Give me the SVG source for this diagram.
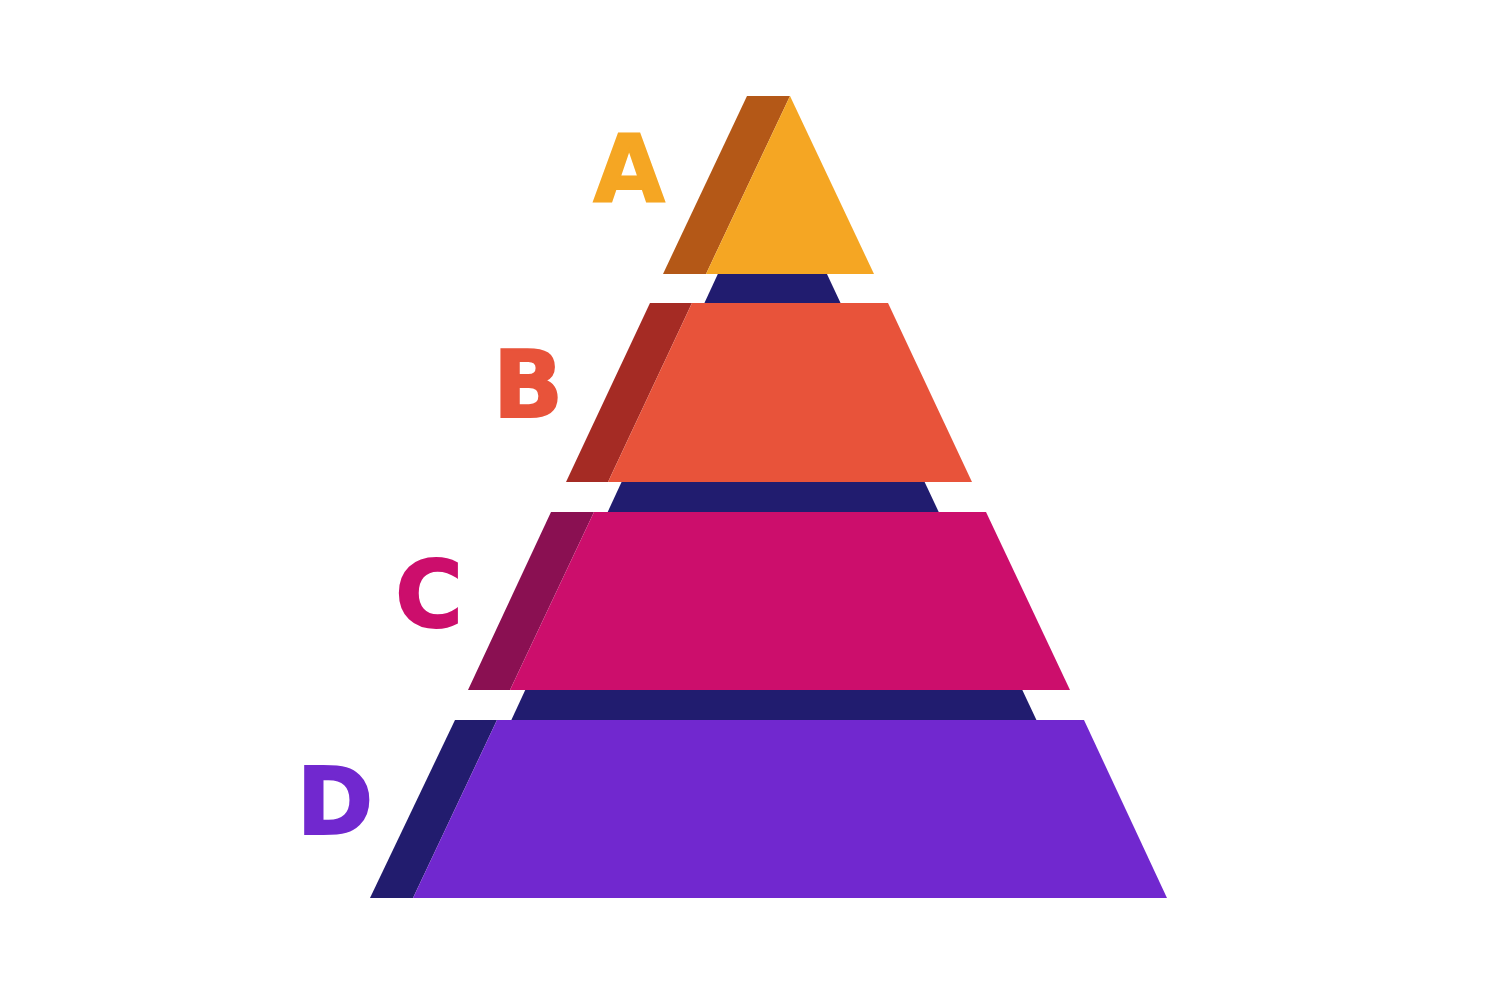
<svg xmlns="http://www.w3.org/2000/svg" width="1500" height="1000" viewBox="0 0 1500 1000">
<style>
.lbl{font-family:"DejaVu Sans","Liberation Sans",sans-serif;font-weight:bold;font-size:92px;text-anchor:middle;stroke-width:2;stroke-linejoin:miter}
</style>
<rect width="1500" height="1000" fill="#ffffff"/>
<g id="background">
<polygon points="772,157 1120,898 429,898" fill="#211C6F"/>
</g>
<g id="tier-A">
<polygon points="747,96 790,96 706,274 663,274" fill="#B45817"/>
<polygon points="790,96 874,274 706,274" fill="#F5A623"/>
<text class="lbl" x="629" y="201" fill="#F5A623" stroke="#F5A623">A</text>
</g>
<g id="tier-B">
<polygon points="650,303 692,303 608,482 566,482" fill="#A52B24"/>
<polygon points="692,303 888,303 972,482 608,482" fill="#E8533A"/>
<text class="lbl" x="528" y="417" fill="#E8533A" stroke="#E8533A">B</text>
</g>
<g id="tier-C">
<polygon points="551,512 594,512 510,690 468,690" fill="#8A1052"/>
<polygon points="594,512 986,512 1070,690 510,690" fill="#CC0E6C"/>
<text class="lbl" x="429" y="627" fill="#CC0E6C" stroke="#CC0E6C">C</text>
</g>
<g id="tier-D">
<polygon points="455,720 497,720 413,898 370,898" fill="#221C6E"/>
<polygon points="497,720 1084,720 1167,898 413,898" fill="#7128CF"/>
<text class="lbl" x="335" y="834" fill="#7128CF" stroke="#7128CF">D</text>
</g>
<g id="connectors"/>
</svg>
